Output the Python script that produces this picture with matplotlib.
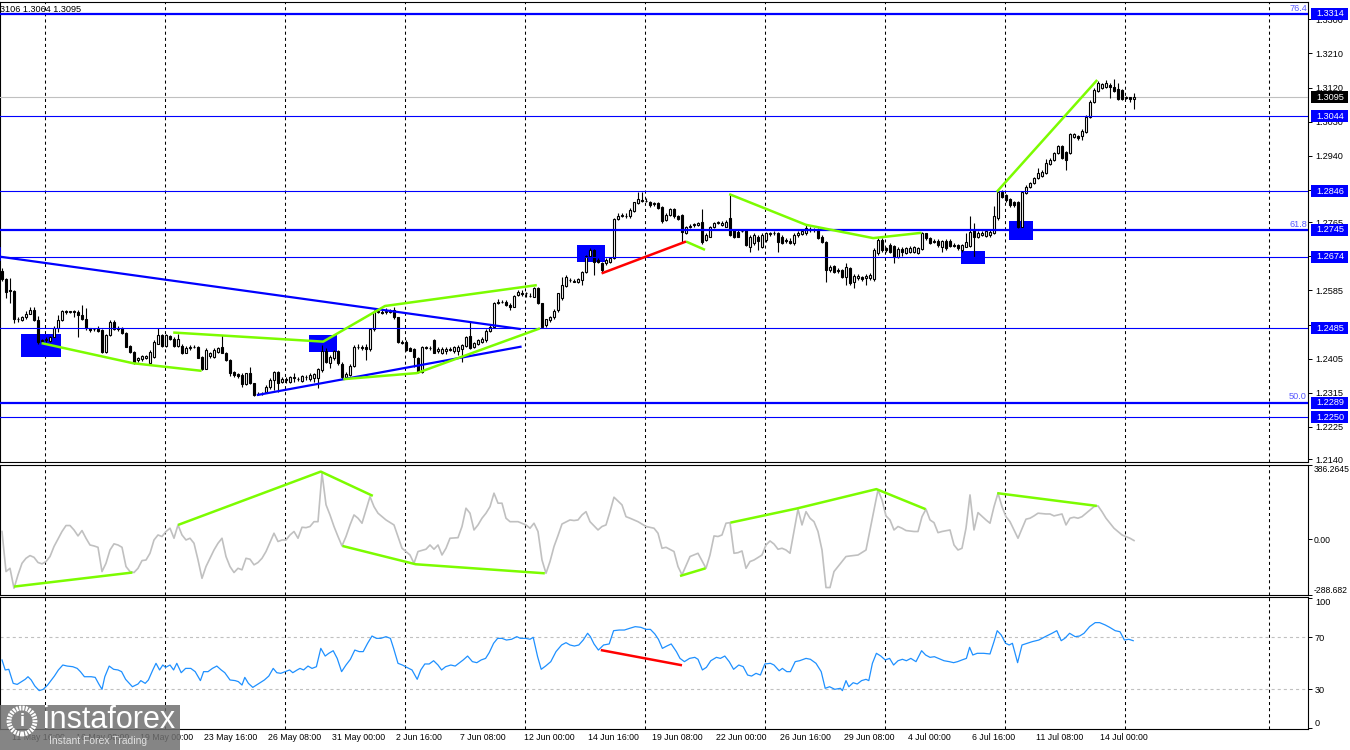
import matplotlib
matplotlib.use("Agg")
import matplotlib.pyplot as plt
import matplotlib.patches as mpatches
import matplotlib.transforms as mtransforms
import numpy as np

plt.rcParams['font.family'] = ['Liberation Sans', 'DejaVu Sans']
plt.rcParams['lines.scale_dashes'] = False

# ---------------- data (GBPUSD H4) ----------------
opens = [
 1.2637,1.2614,1.2586,1.2584,1.2510,1.2507,1.2516,1.2524,1.2533,1.2507,
 1.2451,1.2454,1.2452,1.2463,1.2487,1.2507,1.2531,1.2529,1.2530,1.2529,
 1.2520,1.2511,1.2485,1.2482,1.2482,1.2480,1.2423,1.2467,1.2502,1.2485,
 1.2487,1.2473,1.2438,1.2423,1.2401,1.2403,1.2408,1.2394,1.2410,1.2445,
 1.2467,1.2438,1.2465,1.2458,1.2438,1.2438,1.2421,1.2432,1.2436,1.2436,
 1.2410,1.2379,1.2412,1.2410,1.2423,1.2435,1.2421,1.2401,1.2370,1.2364,
 1.2362,1.2338,1.2368,1.2340,1.2311,1.2311,1.2318,1.2331,1.2348,1.2370,
 1.2344,1.2349,1.2344,1.2353,1.2351,1.2347,1.2358,1.2351,1.2353,1.2353,
 1.2375,1.2424,1.2393,1.2406,1.2424,1.2391,1.2356,1.2362,1.2386,1.2435,
 1.2437,1.2435,1.2430,1.2482,1.2529,1.2529,1.2529,1.2532,1.2533,1.2514,
 1.2450,1.2450,1.2432,1.2430,1.2406,1.2371,1.2435,1.2432,1.2453,1.2424,
 1.2421,1.2426,1.2430,1.2424,1.2424,1.2430,1.2439,1.2465,1.2435,1.2445,
 1.2450,1.2453,1.2479,1.2489,1.2555,1.2555,1.2555,1.2547,1.2542,1.2573,
 1.2577,1.2577,1.2570,1.2569,1.2591,1.2551,1.2494,1.2507,1.2514,1.2533,
 1.2564,1.2597,1.2613,1.2608,1.2608,1.2613,1.2634,1.2676,1.2692,1.2665,
 1.2658,1.2657,1.2661,1.2670,1.2773,1.2781,1.2781,1.2780,1.2795,1.2815,
 1.2822,1.2821,1.2819,1.2813,1.2815,1.2804,1.2771,1.2784,1.2799,1.2780,
 1.2784,1.2736,1.2753,1.2758,1.2758,1.2766,1.2718,1.2727,1.2752,1.2764,
 1.2758,1.2753,1.2775,1.2744,1.2740,1.2743,1.2744,1.2700,1.2709,1.2727,
 1.2700,1.2718,1.2734,1.2737,1.2736,1.2727,1.2718,1.2716,1.2709,1.2731,
 1.2734,1.2736,1.2744,1.2744,1.2744,1.2727,1.2714,1.2639,1.2649,1.2639,
 1.2639,1.2621,1.2643,1.2608,1.2617,1.2620,1.2617,1.2617,1.2614,1.2683,
 1.2718,1.2696,1.2705,1.2702,1.2674,
 1.2693,1.2685,1.2687,1.2687,1.2685,1.2693,1.2736,1.2722,1.2716,1.2716,
 1.2700,1.2716,1.2716,1.2705,1.2705,1.2692,1.2700,1.2702,1.2744,1.2727,
 1.2731,1.2729,1.2731,1.2737,1.2775,1.2845,1.2837,1.2825,1.2817,1.2819,
 1.2753,1.2843,
 1.2857,1.2867,1.2881,1.2887,1.2894,1.2918,1.2929,1.2948,1.2966,1.2951,
 1.2947,1.2989,1.2991,1.2991,1.3004,1.3043,1.3083,1.3112,1.3118,1.3121,
 1.3127,1.3122,1.3115,1.3114,1.3096,1.3094,1.3089]
highs = [
 1.2643,1.2619,1.2617,1.2586,1.2516,1.2517,1.2531,1.2542,1.2542,1.2517,
 1.2458,1.2461,1.2465,1.2491,1.2520,1.2533,1.2533,1.2531,1.2533,1.2533,
 1.2546,1.2538,1.2487,1.2487,1.2491,1.2482,1.2470,1.2507,1.2507,1.2491,
 1.2489,1.2475,1.2441,1.2426,1.2410,1.2414,1.2414,1.2428,1.2454,1.2485,
 1.2470,1.2470,1.2467,1.2461,1.2470,1.2445,1.2438,1.2441,1.2441,1.2438,
 1.2412,1.2432,1.2423,1.2432,1.2436,1.2467,1.2423,1.2403,1.2373,1.2368,
 1.2366,1.2368,1.2384,1.2341,1.2318,1.2317,1.2335,1.2353,1.2373,1.2373,
 1.2358,1.2356,1.2359,1.2366,1.2358,1.2362,1.2362,1.2366,1.2368,1.2380,
 1.2441,1.2432,1.2415,1.2428,1.2428,1.2395,1.2371,1.2391,1.2441,1.2444,
 1.2441,1.2445,1.2485,1.2533,1.2538,1.2535,1.2538,1.2535,1.2541,1.2516,
 1.2454,1.2453,1.2437,1.2432,1.2409,1.2439,1.2439,1.2439,1.2456,1.2435,
 1.2435,1.2435,1.2435,1.2439,1.2441,1.2445,1.2465,1.2503,1.2450,1.2456,
 1.2463,1.2482,1.2494,1.2555,1.2562,1.2560,1.2560,1.2551,1.2573,1.2585,
 1.2585,1.2582,1.2577,1.2593,1.2595,1.2553,1.2511,1.2518,1.2535,1.2579,
 1.2621,1.2626,1.2617,1.2614,1.2617,1.2637,1.2678,1.2696,1.2693,1.2670,
 1.2661,1.2670,1.2674,1.2775,1.2788,1.2790,1.2788,1.2802,1.2819,1.2845,
 1.2845,1.2828,1.2822,1.2819,1.2817,1.2808,1.2788,1.2802,1.2802,1.2784,
 1.2787,1.2755,1.2760,1.2764,1.2766,1.2799,1.2736,1.2755,1.2766,1.2769,
 1.2769,1.2771,1.2837,1.2746,1.2744,1.2746,1.2746,1.2731,1.2736,1.2731,
 1.2736,1.2740,1.2740,1.2743,1.2740,1.2731,1.2722,1.2722,1.2736,1.2743,
 1.2746,1.2758,1.2752,1.2749,1.2749,1.2731,1.2716,1.2652,1.2652,1.2643,
 1.2641,1.2657,1.2646,1.2628,1.2628,1.2623,1.2628,1.2630,1.2696,1.2722,
 1.2722,1.2700,1.2709,1.2705,1.2699,
 1.2699,1.2700,1.2702,1.2702,1.2700,1.2740,1.2737,1.2725,1.2720,1.2720,
 1.2718,1.2720,1.2720,1.2709,1.2707,1.2707,1.2737,1.2781,1.2762,1.2743,
 1.2743,1.2746,1.2744,1.2808,1.2848,1.2850,1.2839,1.2828,1.2822,1.2822,
 1.2848,1.2863,
 1.2872,1.2885,1.2907,1.2903,1.2931,1.2933,1.2951,1.2969,1.2969,1.2954,
 1.3001,1.3001,1.2995,1.3010,1.3048,1.3087,1.3118,1.3138,1.3133,1.3140,
 1.3131,1.3142,1.3131,1.3115,1.3098,1.3096,1.3106]
lows = [
 1.2611,1.2564,1.2551,1.2498,1.2502,1.2505,1.2511,1.2523,1.2505,1.2445,
 1.2447,1.2450,1.2450,1.2461,1.2476,1.2505,1.2524,1.2526,1.2516,1.2463,
 1.2507,1.2480,1.2476,1.2479,1.2476,1.2421,1.2421,1.2465,1.2480,1.2479,
 1.2470,1.2435,1.2421,1.2391,1.2397,1.2399,1.2405,1.2392,1.2408,1.2443,
 1.2436,1.2436,1.2454,1.2436,1.2436,1.2417,1.2419,1.2429,1.2432,1.2406,
 1.2375,1.2377,1.2408,1.2408,1.2421,1.2419,1.2399,1.2359,1.2357,1.2355,
 1.2331,1.2335,1.2338,1.2306,1.2308,1.2308,1.2315,1.2326,1.2322,1.2318,
 1.2340,1.2342,1.2342,1.2344,1.2347,1.2344,1.2349,1.2347,1.2344,1.2327,
 1.2371,1.2393,1.2380,1.2402,1.2389,1.2352,1.2351,1.2359,1.2384,1.2430,
 1.2428,1.2402,1.2426,1.2479,1.2525,1.2523,1.2523,1.2525,1.2511,1.2447,
 1.2444,1.2426,1.2424,1.2384,1.2368,1.2368,1.2430,1.2428,1.2419,1.2419,
 1.2417,1.2417,1.2424,1.2421,1.2415,1.2397,1.2435,1.2430,1.2432,1.2441,
 1.2447,1.2450,1.2476,1.2485,1.2549,1.2551,1.2544,1.2533,1.2541,1.2570,
 1.2570,1.2569,1.2567,1.2567,1.2549,1.2485,1.2489,1.2503,1.2511,1.2529,
 1.2560,1.2593,1.2608,1.2606,1.2604,1.2599,1.2632,1.2672,1.2626,1.2657,
 1.2630,1.2652,1.2657,1.2667,1.2771,1.2778,1.2775,1.2775,1.2793,1.2813,
 1.2817,1.2817,1.2806,1.2808,1.2799,1.2764,1.2769,1.2781,1.2775,1.2771,
 1.2714,1.2734,1.2749,1.2753,1.2755,1.2707,1.2716,1.2725,1.2749,1.2760,
 1.2755,1.2752,1.2729,1.2722,1.2725,1.2739,1.2702,1.2687,1.2705,1.2692,
 1.2696,1.2714,1.2729,1.2731,1.2687,1.2707,1.2711,1.2707,1.2705,1.2727,
 1.2731,1.2731,1.2740,1.2740,1.2720,1.2711,1.2608,1.2634,1.2630,1.2632,
 1.2617,1.2599,1.2599,1.2591,1.2613,1.2611,1.2599,1.2613,1.2611,1.2678,
 1.2687,1.2687,1.2683,1.2657,1.2670,
 1.2676,1.2681,1.2683,1.2685,1.2681,1.2692,1.2718,1.2707,1.2709,1.2700,
 1.2687,1.2692,1.2699,1.2699,1.2692,1.2687,1.2699,1.2700,1.2672,1.2722,
 1.2729,1.2725,1.2727,1.2734,1.2771,1.2828,1.2819,1.2806,1.2804,1.2749,
 1.2752,1.2839,
 1.2854,1.2866,1.2878,1.2883,1.2892,1.2916,1.2926,1.2945,1.2931,1.2903,
 1.2945,1.2986,1.2982,1.2982,1.3001,1.3039,1.3080,1.3109,1.3115,1.3118,
 1.3092,1.3109,1.3087,1.3087,1.3089,1.3083,1.3064]
closes = [
 1.2614,1.2582,1.2583,1.2511,1.2509,1.2516,1.2524,1.2533,1.2507,1.2450,
 1.2454,1.2456,1.2463,1.2487,1.2507,1.2531,1.2529,1.2530,1.2528,1.2520,
 1.2511,1.2485,1.2480,1.2482,1.2479,1.2423,1.2467,1.2502,1.2482,1.2482,
 1.2473,1.2436,1.2423,1.2394,1.2406,1.2412,1.2412,1.2423,1.2450,1.2467,
 1.2438,1.2467,1.2456,1.2438,1.2458,1.2419,1.2432,1.2436,1.2436,1.2408,
 1.2379,1.2428,1.2419,1.2428,1.2432,1.2421,1.2401,1.2366,1.2362,1.2359,
 1.2338,1.2366,1.2340,1.2309,1.2313,1.2313,1.2331,1.2348,1.2370,1.2340,
 1.2351,1.2351,1.2356,1.2356,1.2351,1.2359,1.2358,1.2362,1.2365,1.2377,
 1.2424,1.2397,1.2410,1.2424,1.2393,1.2356,1.2365,1.2386,1.2437,1.2437,
 1.2432,1.2430,1.2482,1.2529,1.2532,1.2526,1.2532,1.2529,1.2514,1.2450,
 1.2447,1.2428,1.2426,1.2410,1.2371,1.2435,1.2432,1.2432,1.2421,1.2430,
 1.2430,1.2430,1.2428,1.2435,1.2435,1.2441,1.2461,1.2432,1.2447,1.2453,
 1.2456,1.2479,1.2489,1.2553,1.2553,1.2555,1.2547,1.2542,1.2570,1.2582,
 1.2576,1.2577,1.2570,1.2591,1.2551,1.2489,1.2509,1.2514,1.2532,1.2577,
 1.2599,1.2620,1.2613,1.2611,1.2614,1.2634,1.2676,1.2692,1.2661,1.2661,
 1.2639,1.2665,1.2670,1.2773,1.2780,1.2784,1.2781,1.2797,1.2817,1.2825,
 1.2824,1.2821,1.2810,1.2815,1.2802,1.2769,1.2784,1.2799,1.2780,1.2773,
 1.2740,1.2752,1.2755,1.2760,1.2764,1.2714,1.2731,1.2752,1.2762,1.2765,
 1.2764,1.2766,1.2731,1.2727,1.2727,1.2743,1.2705,1.2727,1.2731,1.2716,
 1.2731,1.2736,1.2736,1.2737,1.2714,1.2711,1.2716,1.2711,1.2731,1.2737,
 1.2743,1.2749,1.2746,1.2744,1.2722,1.2714,1.2639,1.2648,1.2634,1.2637,
 1.2621,1.2648,1.2604,1.2623,1.2623,1.2614,1.2623,1.2626,1.2692,1.2718,
 1.2692,1.2692,1.2687,1.2674,1.2693,
 1.2687,1.2696,1.2698,1.2699,1.2696,1.2736,1.2722,1.2709,1.2714,1.2705,
 1.2716,1.2696,1.2702,1.2702,1.2696,1.2705,1.2714,1.2740,1.2727,1.2737,
 1.2737,1.2743,1.2740,1.2780,1.2845,1.2832,1.2824,1.2810,1.2810,1.2752,
 1.2845,1.2857,
 1.2869,1.2881,1.2894,1.2898,1.2922,1.2929,1.2948,1.2966,1.2933,1.2929,
 1.2997,1.2997,1.2986,1.3006,1.3043,1.3083,1.3114,1.3131,1.3129,1.3131,
 1.3121,1.3112,1.3089,1.3089,1.3092,1.3089,1.3095]

# horizontal levels (price, drawn thick when it is a Fibonacci level)
level_prices = [1.3314, 1.3044, 1.2846, 1.2745, 1.2674, 1.2485, 1.2289, 1.2250]
level_is_fibo = [True, False, False, True, False, False, True, False]
fibo_names = {'76.4': 1.3314, '61.8': 1.2745, '50.0': 1.2289}
price_ticks = [1.3300, 1.3210, 1.3120, 1.3030, 1.2940, 1.2850, 1.2765, 1.2675,
               1.2585, 1.2495, 1.2405, 1.2315, 1.2225, 1.2140]

# drawn objects (bar index, price)
blue_trends = [([-0.5, 129.75], [1.2674, 1.2483]),
               ([63.7, 129.9], [1.2309, 1.2437])]
blue_marker = ([-0.4, -0.4], [1.2698, 1.2665])
green_main = [([9.9, 32.8, 49.9], [1.2446, 1.2393, 1.2373]),
              ([42.8, 80.3, 95.75, 133.7], [1.2474, 1.2450, 1.2544, 1.2599]),
              ([85.3, 103.7, 134.5], [1.2351, 1.2367, 1.2485]),
              ([181.8, 201.0, 217.8, 229.9], [1.2839, 1.2758, 1.2723, 1.2737]),
              ([171.0, 175.75], [1.2714, 1.2692]),
              ([248.7, 273.8], [1.2845, 1.3140])]
red_main = ([149.9, 171.0], [1.2630, 1.2714])
signal_boxes = [(4.75, 14.75, 1.2410, 1.2470), (76.8, 83.7, 1.2423, 1.2468),
                (143.75, 150.75, 1.2661, 1.2705), (239.75, 245.75, 1.2655, 1.2689),
                (251.75, 257.75, 1.2718, 1.2768)]

# CCI readings (bar index, value)
cci_readings = [(0,41),(1,-167),(2,-150),(3,-254),(4,-184),(5,-124),(6,-98),(7,-84),(8,-93),(9,-120),
 (10,-127),(11,-115),(12,-89),(13,-37),(15,41),(16,72),(17,72),(18,49),(19,18),(20,46),(21,6),(22,-29),
 (23,-34),(24,-41),(25,-167),(26,-124),(27,-55),(28,-23),(29,-29),(30,-41),(31,-141),(32,-167),(33,-172),
 (34,-150),(35,-110),(36,-107),(37,-72),(38,-3),(39,23),(40,15),(41,41),(42,58),(43,6),(44,75),(45,23),
 (46,-3),(47,6),(48,-20),(49,-106),(50,-202),(51,-141),(52,-98),(53,-55),(54,-20),(55,6),(56,-89),
 (57,-141),(58,-172),(59,-150),(60,-158),(61,-98),(62,-103),(63,-132),(64,-120),(65,-98),(66,-63),
 (67,-16),(68,32),(69,-11),(70,-3),(71,-3),(72,23),(73,41),(74,6),(75,63),(76,61),(77,67),(78,92),
 (79,92),(80,344),(81,180),(82,127),(83,67),(84,15),(85,-34),(86,15),(87,75),(88,127),(89,110),(90,84),
 (91,153),(92,222),(93,170),(94,136),(96,101),(98,75),(99,15),(100,-46),(102,-81),(103,-124),(104,-63),
 (106,-51),(107,-29),(108,-51),(109,-29),(110,-81),(111,-46),(112,6),(114,9),(115,67),(116,162),
 (117,136),(118,49),(119,75),(120,110),(121,136),(122,170),(123,240),(124,188),(125,188),(126,110),
 (127,92),(129,92),(131,75),(132,58),(133,84),(134,41),(135,-107),(136,-176),(137,-115),(138,-37),
 (139,20),(140,80),(142,101),(143,98),(144,101),(145,127),(146,144),(147,92),(149,49),(150,67),(151,75),
 (152,144),(153,219),(155,179),(156,118),(157,110),(159,92),(161,67),(163,58),(164,32),(165,-46),
 (166,-41),(168,-63),(169,-141),(170,-184),(172,-89),(174,-72),(176,-150),(177,-81),(178,18),(179,15),
 (180,23),(181,84),(182,87),(183,-72),(184,-69),(185,-60),(186,-150),(187,-115),(188,-107),(190,-81),
 (191,-29),(192,-8),(193,-24),(194,-51),(195,-46),(196,-55),(197,-72),(198,41),(199,157),(200,75),
 (201,144),(202,110),(203,92),(204,41),(205,-55),(206,-250),(207,-250),(208,-167),(209,-141),(211,-89),
 (212,-86),(214,-81),(216,-55),(217,49),(219,257),(220,205),(221,122),(222,101),(223,49),(224,67),
 (225,58),(226,46),(228,41),(229,41),(230,118),(231,157),(232,101),(233,87),(234,35),(235,41),(237,49),
 (238,-29),(239,-55),(240,-46),(241,58),(242,231),(243,49),(244,139),(246,101),(247,84),(248,170),
 (249,240),(250,170),(251,118),(252,92),(254,6),(256,105),(257,110),(258,122),(259,136),(261,132),
 (262,132),(263,122),(265,132),(266,75),(267,110),(268,115),(269,110),(270,118),(272,153),(273,170),
 (274,174),(275,144),(276,110),(277,84),(278,58),(280,23),(282,6),(283,-6)]
cci_max, cci_min = 386.2645, -288.682
cci_green = [([3, 32.6], [-245, -172]),
             ([44, 79.7, 92.7], [75, 352, 226]),
             ([85.1, 103.4, 135.7], [-34, -129, -176]),
             ([169.5, 175.9], [-190, -150]),
             ([182.1, 198.6, 218.6, 230.9], [87, 160, 261, 157]),
             ([248.8, 273.7], [240, 174])]

# RSI readings
rsi_x = [0, 0.8, 1.7, 2.8, 3.8, 4.9, 5.8, 6.5, 7.3, 8.2, 9.3, 10.3, 11.4, 13.1, 14.1, 15.2, 16.3, 17.7,
 18.8, 19.6, 20.6, 22.3, 23.3, 24.2, 25.0, 25.7, 26.8, 27.9, 29.0, 29.9, 30.9, 32.6, 34.0, 34.7, 35.8,
 36.6, 37.7, 38.5, 39.4, 40.2, 40.9, 42.0, 42.9, 43.7, 44.8, 45.9, 47.2, 48.3, 49.6, 50.4, 51.5, 52.6,
 53.7, 54.8, 55.7, 57.0, 58.3, 59.1, 60.0, 60.7, 61.6, 62.7, 64.0, 65.6, 66.7, 67.8, 68.7, 69.7, 70.8,
 71.9, 72.7, 73.8, 74.5, 75.4, 76.5, 77.5, 78.6, 79.7, 80.8, 81.7, 82.8, 83.8, 84.9, 86.0, 87.1, 88.2,
 89.3, 90.3, 91.4, 92.5, 93.6, 94.7, 96.0, 97.1, 97.9, 99.0, 100.1, 101.2, 102.5, 103.8, 104.7, 105.7,
 106.8, 107.9, 109.0, 109.9, 110.9, 112.2, 113.3, 114.2, 115.3, 116.4, 117.6, 118.7, 119.8, 120.9,
 121.8, 122.9, 123.9, 125.0, 126.1, 127.4, 128.7, 129.6, 130.9, 132.0, 132.8, 133.9, 134.8, 135.9,
 137.2, 138.5, 139.9, 141.0, 142.0, 143.1, 144.2, 145.3, 146.4, 147.1, 148.0, 149.1, 150.4, 151.8,
 152.9, 154.3, 155.6, 156.9, 158.3, 159.7, 161.0, 162.1, 163.2, 164.1, 165.1, 166.2, 167.3, 168.6,
 169.5,
 170.6, 171.9, 173.2, 174.0, 175.1, 176.1, 177.2, 178.6, 179.6, 180.7, 181.8, 182.9, 184.2, 185.3,
 186.4, 187.4, 188.5, 189.6, 190.7, 192.1, 193.0, 194.3, 195.1, 196.2, 197.1, 198.3, 199.4, 201.0,
 202.1, 203.5, 204.8, 205.8, 206.9, 208.2, 209.6, 210.1, 211.0, 211.7, 212.8, 213.8, 214.9, 216.0,
 216.7, 217.6, 218.6, 219.7, 220.8, 221.9, 222.9, 224.0, 225.1, 226.1, 227.2, 228.5, 229.9, 230.9,
 232.0, 233.1, 234.1, 235.5, 236.8, 237.9, 238.9, 240.0, 241.1, 241.9, 242.7, 243.8, 245.4, 247.0,
 248.0, 248.8, 249.8, 250.9, 251.8, 252.6, 253.9, 255.0, 256.3, 257.6, 259.2, 260.8, 262.5, 263.7,
 264.8, 265.7, 266.9, 268.3, 269.4, 270.5, 271.9, 273.3, 274.4, 275.8, 276.9, 278.3, 279.5, 280.6,
 281.7, 282.8]
rsi_v = [52.6, 44.9, 45.4, 34.6, 33.8, 35.9, 37.7, 39.7, 37.2, 32.6, 29.0, 30.0, 33.3, 40.2, 44.9, 48.7,
 47.9, 47.4, 46.1, 43.6, 39.7, 39.7, 39.2, 34.1, 30.0, 39.7, 47.9, 45.4, 44.9, 43.6, 37.7, 32.0, 34.1,
 36.7, 34.6, 37.2, 44.9, 50.0, 44.9, 48.7, 46.9, 48.7, 44.9, 50.0, 42.8, 46.1, 46.1, 43.6, 36.7, 43.6,
 43.6, 46.1, 47.9, 44.9, 42.8, 37.2, 36.7, 35.9, 33.3, 39.2, 34.6, 31.5, 34.1, 37.2, 40.2, 46.1, 42.8,
 42.3, 43.6, 44.9, 42.8, 44.9, 46.1, 44.9, 47.9, 46.1, 47.4, 61.5, 55.6, 57.7, 59.7, 53.8, 43.6, 48.7,
 53.1, 60.2, 59.0, 59.0, 65.4, 71.0, 69.2, 69.2, 70.5, 69.2, 61.5, 50.0, 48.7, 46.9, 44.9, 37.7, 44.9,
 49.5, 49.5, 52.0, 48.7, 44.9, 47.4, 48.7, 47.9, 50.0, 52.6, 55.6, 51.3, 50.5, 52.6, 53.8, 58.2, 65.4,
 69.2, 69.2, 67.9, 68.5, 70.5, 69.2, 69.2, 68.5, 70.0, 55.1, 45.4, 47.9, 51.3, 59.0, 64.1, 65.9, 64.1,
 63.3, 64.1, 67.9, 73.1, 70.5, 64.9, 60.2, 64.1, 64.9, 75.1, 75.6, 75.6, 76.9, 78.2, 77.7, 76.1, 76.1,
 72.6, 68.5, 61.5, 63.3, 64.9, 59.0, 53.8,
 51.3, 53.8, 54.6, 53.1, 44.9, 46.9, 52.0, 54.6, 53.8, 55.6, 51.3, 45.4, 48.7, 47.4, 41.0, 40.2, 42.3,
 41.0, 49.5, 50.0, 48.7, 44.3, 46.1, 43.6, 43.6, 51.3, 52.0, 53.8, 53.1, 50.0, 43.6, 30.8, 32.0, 30.0,
 30.8, 29.0, 36.7, 32.0, 35.1, 34.1, 36.7, 37.7, 36.7, 50.0, 57.7, 55.6, 52.6, 53.8, 48.7, 52.0, 53.1,
 52.0, 53.8, 51.3, 59.7, 56.4, 54.6, 55.1, 53.8, 52.0, 51.3, 50.5, 51.3, 52.6, 53.8, 62.3, 56.4, 57.7,
 57.7, 57.2, 66.7, 75.1, 71.8, 65.4, 64.1, 65.4, 50.5, 64.1, 65.4, 66.7, 67.9, 70.5, 73.1, 75.1, 67.4,
 69.2, 73.1, 70.5, 71.0, 73.1, 78.2, 81.3, 81.3, 79.5, 77.7, 75.1, 74.3, 67.9, 68.5, 67.4]
rsi_levels = [30, 70]
rsi_ticks = [0, 30, 70, 100]
rsi_red = ([149.7, 170.0], [60.2, 48.5])

# time axis
time_labels = ['11 May 16:00', '16 May 08:00', '19 May 00:00', '23 May 16:00', '26 May 08:00',
               '31 May 00:00', '2 Jun 16:00', '7 Jun 08:00', '12 Jun 00:00', '14 Jun 16:00',
               '19 Jun 08:00', '22 Jun 00:00', '26 Jun 16:00', '29 Jun 08:00', '4 Jul 00:00',
               '6 Jul 16:00', '11 Jul 08:00', '14 Jul 00:00']
label_bars = [2, 18, 34, 50, 66, 82, 98, 114, 130, 146, 162, 178, 194, 210, 226, 242, 258, 274]
grid_bars = [10.75, 40.75, 70.75, 100.75, 130.75, 160.75, 190.75, 220.75, 250.75, 280.75, 316.75]
header_text = '3106 1.3064 1.3095'

# ---------------- styling ----------------
BLUE = '#0000ff'
GREEN = '#7cfc00'
FS = 6.6
W, H = 1350, 750
fig = plt.figure(figsize=(W / 100, H / 100), dpi=100)
fig.patch.set_facecolor('white')


def rect(top, bottom, right=1308):
    return [0.0, 1 - bottom / H, right / W, (bottom - top) / H]


ax = fig.add_axes(rect(2, 462))
ax_cci = fig.add_axes(rect(465, 595), sharex=ax)
ax_rsi = fig.add_axes(rect(597, 729), sharex=ax)

for a in (ax, ax_cci, ax_rsi):
    a.set_facecolor('white')
    for s in a.spines.values():
        s.set_color('black')
        s.set_linewidth(0.8)
    a.yaxis.tick_right()
    a.tick_params(axis='y', direction='out', length=3, width=0.7, pad=2,
                  labelsize=FS, colors='black')
    a.tick_params(axis='x', bottom=False, labelbottom=False)
    for g in grid_bars:
        a.axvline(g, color='black', lw=0.75, ls=(0, (2.2, 2.2)), zorder=1)

ax.set_xlim(-0.5, 326.5)
ax.set_ylim(1.21326, 1.33456)

# candles
o = np.array(opens); c = np.array(closes); h = np.array(highs); l = np.array(lows)
xb = np.arange(len(c))
up = c >= o
ax.vlines(xb, l, h, color='black', lw=0.8, zorder=4)
ax.bar(xb, c - o, bottom=o, width=0.5, color=np.where(up, 'white', 'black'),
       edgecolor='black', linewidth=0.8, zorder=5)

# signal boxes
for x0, x1, p0, p1 in signal_boxes:
    ax.add_patch(mpatches.Rectangle((x0, p0), x1 - x0, p1 - p0, facecolor=BLUE,
                                    edgecolor='none', zorder=2))

# levels
ax.axhline(c[-1], color='#c0c0c0', lw=0.8, zorder=3)
for v, fib in zip(level_prices, level_is_fibo):
    ax.axhline(v, color=BLUE, lw=1.6 if fib else 0.8, zorder=6)

# trend lines
for xs, ys in blue_trends:
    ax.plot(xs, ys, color=BLUE, lw=1.6, zorder=7, solid_capstyle='butt')
ax.plot(*blue_marker, color=BLUE, lw=1.2, zorder=7)
for xs, ys in green_main:
    ax.plot(xs, ys, color=GREEN, lw=1.8, zorder=8, solid_capstyle='butt')
ax.plot(*red_main, color='red', lw=1.8, zorder=8, solid_capstyle='butt')

# price axis
ax.set_yticks(price_ticks)
ax.set_yticklabels([f'{t:.4f}' for t in price_ticks])
trans = mtransforms.blended_transform_factory(ax.transAxes, ax.transData)
px_price = (1.33456 - 1.21326) / 460.0
box_w = 37 / 1308
for v in level_prices + [c[-1]]:
    fc = 'black' if v == c[-1] else BLUE
    ax.add_patch(mpatches.Rectangle((1.0023, v - 6 * px_price), box_w, 12 * px_price,
                                    transform=trans, facecolor=fc, edgecolor='none',
                                    clip_on=False, zorder=20))
    ax.text(1.006, v, f'{v:.4f}', transform=trans, color='white', fontsize=FS,
            va='center', ha='left', clip_on=False, zorder=21)
for name, v in fibo_names.items():
    ax.text(0.9992, v + 1.2 * px_price, name, transform=trans, color='#5a5aff',
            fontsize=FS, va='bottom', ha='right', zorder=21)

fig.text(0.0, 1 - 10 / H, header_text, fontsize=FS, color='black', va='center', ha='left')

# CCI
cx = [p[0] for p in cci_readings]
cv = [p[1] for p in cci_readings]
ax_cci.plot(cx, cv, color='#c0c0c0', lw=1.2, zorder=3)
for xs, ys in cci_green:
    ax_cci.plot(xs, ys, color=GREEN, lw=1.8, zorder=4, solid_capstyle='butt')
ax_cci.set_ylim(cci_min, cci_max)
ax_cci.set_yticks([cci_min, 0, cci_max])
ax_cci.set_yticklabels(['-288.682', '0.00', '386.2645'])
ax_cci.tick_params(axis='y', pad=1, labelsize=6.2)
tl = ax_cci.get_yticklabels()
tl[0].set_va('bottom'); tl[2].set_va('top')

# RSI
ax_rsi.plot(rsi_x, rsi_v, color='#1e90ff', lw=0.9, zorder=3)
ax_rsi.plot(*rsi_red, color='red', lw=1.8, zorder=4, solid_capstyle='butt')
for lv in rsi_levels:
    ax_rsi.axhline(lv, color='#c0c0c0', lw=0.8, ls=(0, (2.2, 2.2)), zorder=2)
ax_rsi.set_ylim(-0.5, 101)
ax_rsi.set_yticks(rsi_ticks)
ax_rsi.set_yticklabels([str(t) for t in rsi_ticks])
tl = ax_rsi.get_yticklabels()
tl[0].set_va('bottom'); tl[3].set_va('top')

ax_rsi.tick_params(axis='x', bottom=False, labelbottom=True, length=0, pad=3, labelsize=6.3)
ax_rsi.set_xticks(label_bars)
ax_rsi.set_xticklabels(time_labels)
shift = mtransforms.ScaledTranslation(2 / 100, 0, fig.dpi_scale_trans)
for lbl in ax_rsi.get_xticklabels():
    lbl.set_ha('left')
    lbl.set_transform(lbl.get_transform() + shift)

# watermark
fig.add_artist(mpatches.Rectangle((0, 0), 180 / W, 45 / H, transform=fig.transFigure,
                                  facecolor='#707070', alpha=0.85, edgecolor='none', zorder=50))
logo = mpatches.Ellipse((22 / W, 1 - 721 / H), 26 / W, 26 / H, transform=fig.transFigure,
                        facecolor='none', edgecolor='white', lw=3.5, ls=(0, (1.5, 0.8)), zorder=51)
fig.add_artist(logo)
fig.text(22 / W, 1 - 722 / H, 'i', color='white', fontsize=13, fontweight='bold',
         ha='center', va='center', zorder=52)
fig.text(43 / W, 1 - 720 / H, 'instaforex', color='white', fontsize=22, ha='left',
         va='center', zorder=52)
fig.text(49 / W, 1 - 741 / H, 'Instant Forex Trading', color='#e0e0e0', fontsize=7.5,
         ha='left', va='center', zorder=52)

fig.savefig('out.png', dpi=100, facecolor='white')
